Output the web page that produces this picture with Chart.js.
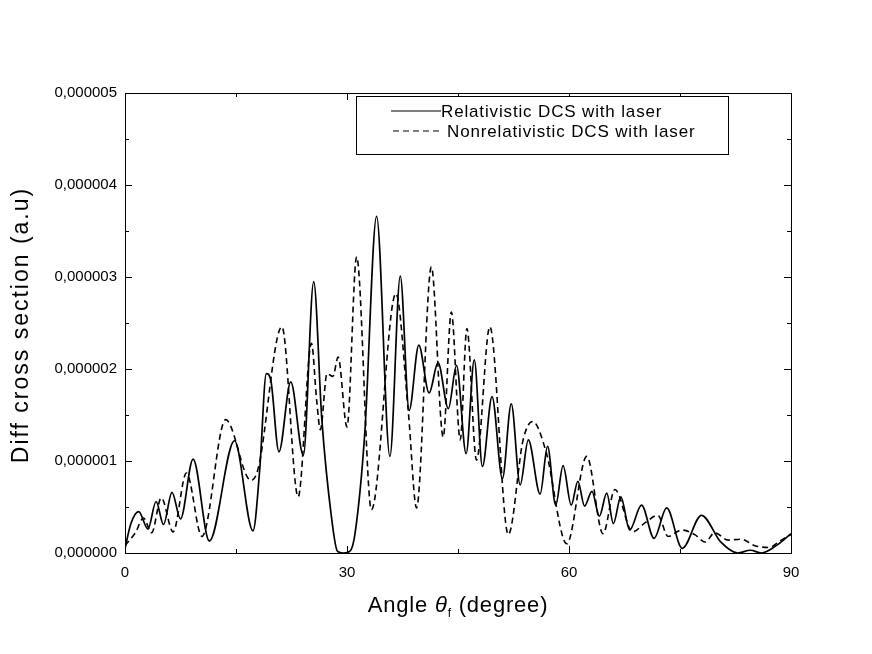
<!DOCTYPE html>
<html>
<head>
<meta charset="utf-8">
<script src="https://cdn.jsdelivr.net/npm/chart.js@4.4.1/dist/chart.umd.min.js"></script>
<style>
html,body{margin:0;padding:0;background:#fff;}
#wrap{width:872px;height:654px;}
canvas{display:block;}
</style>
</head>
<body>
<div id="wrap"><canvas id="c" width="872" height="654"></canvas></div>
<script>
// Angle (degree) and DCS values (a.u.)
const relAngle = [0,0.8,1.85,3.1,4.2,5.2,6.35,7.5,9.2,11.4,14.8,17.3,18.2,19.1,19.7,20.8,22.4,24.1,25.5,26.6,27.9,28.7,29.5,30.4,31.1,32.4,34.0,35.8,37.2,38.4,39.7,41.1,42.3,43.7,44.8,46.1,47.2,48.3,49.6,51.0,52.2,53.4,54.5,56.1,57.1,58.2,59.2,60.3,61.2,62.1,63.1,64.1,65.1,66.0,67.0,68.2,69.8,71.5,73.2,75.3,77.9,80.5,82.8,84.5,86.0,88.0,90.0];
const relDCS = [0.05e-6,0.32e-6,0.45e-6,0.26e-6,0.56e-6,0.31e-6,0.66e-6,0.37e-6,1.02e-6,0.13e-6,1.22e-6,0.24e-6,0.9e-6,1.95e-6,1.88e-6,1.1e-6,1.86e-6,1.06e-6,2.95e-6,1.45e-6,0.39e-6,0.02e-6,0.0,0.02e-6,0.22e-6,1.3e-6,3.66e-6,1.05e-6,3.01e-6,1.55e-6,2.26e-6,1.74e-6,2.07e-6,1.57e-6,2.04e-6,1.08e-6,2.1e-6,0.94e-6,1.7e-6,0.81e-6,1.62e-6,0.74e-6,1.23e-6,0.64e-6,1.16e-6,0.52e-6,0.95e-6,0.52e-6,0.78e-6,0.51e-6,0.67e-6,0.4e-6,0.65e-6,0.32e-6,0.61e-6,0.25e-6,0.52e-6,0.16e-6,0.49e-6,0.05e-6,0.41e-6,0.12e-6,0.0,0.03e-6,0.0,0.08e-6,0.21e-6];

const nonAngle = [0,1.4,2.5,3.6,4.9,6.5,8.3,10.4,13.6,16.5,17.1,18.0,21.2,23.4,25.2,25.9,26.4,27.3,28.1,28.8,30.0,31.3,33.3,36.6,38.3,39.4,41.4,43.0,44.1,45.3,46.2,47.5,49.3,51.8,53.8,55.1,56.9,59.7,62.4,64.6,66.2,68.6,70.3,72.0,73.4,75.2,77.0,78.4,79.7,81.5,83.3,85.1,87.0,88.7,90.0];
const nonDCS = [0.08e-6,0.22e-6,0.38e-6,0.22e-6,0.6e-6,0.23e-6,0.87e-6,0.18e-6,1.45e-6,0.83e-6,0.79e-6,0.92e-6,2.46e-6,0.61e-6,2.28e-6,1.66e-6,1.34e-6,1.95e-6,1.92e-6,2.13e-6,1.37e-6,3.22e-6,0.47e-6,2.82e-6,1.52e-6,0.49e-6,3.11e-6,1.26e-6,2.62e-6,1.23e-6,2.44e-6,1.01e-6,2.46e-6,0.2e-6,1.23e-6,1.43e-6,1.1e-6,0.1e-6,1.05e-6,0.21e-6,0.69e-6,0.23e-6,0.33e-6,0.41e-6,0.18e-6,0.25e-6,0.2e-6,0.12e-6,0.22e-6,0.14e-6,0.15e-6,0.08e-6,0.06e-6,0.14e-6,0.2e-6];

const xMajorTicks = [0,30,60,90];
const xMinorTicks = [15,45,75];
const yMajorTicks = [0,1e-6,2e-6,3e-6,4e-6,5e-6];
const yMinorTicks = [0.5e-6,1.5e-6,2.5e-6,3.5e-6,4.5e-6];
const seriesNames = ['Relativistic DCS with laser','Nonrelativistic DCS with laser'];

const FONT = '"Liberation Sans", Arial, sans-serif';

const framePlugin = {
  id:'frame',
  afterDatasetsDraw(chart){
    const ctx = chart.ctx, a = chart.chartArea;
    const xs = chart.scales.x, ys = chart.scales.y;
    ctx.save();
    ctx.strokeStyle = '#000';
    ctx.lineWidth = 1;
    ctx.setLineDash([]);
    ctx.strokeRect(Math.round(a.left)+0.5, Math.round(a.top)+0.5, Math.round(a.right-a.left), Math.round(a.bottom-a.top));
    ctx.beginPath();
    const tick = (vals, len) => {
      vals.forEach(v=>{
        const px = Math.round(xs.getPixelForValue(v))+0.5;
        ctx.moveTo(px, a.bottom); ctx.lineTo(px, a.bottom-len);
        ctx.moveTo(px, a.top); ctx.lineTo(px, a.top+len);
      });
    };
    tick(xMajorTicks, 7); tick(xMinorTicks, 4);
    const ytick = (vals, len) => {
      vals.forEach(v=>{
        const py = Math.round(ys.getPixelForValue(v))+0.5;
        ctx.moveTo(a.left, py); ctx.lineTo(a.left+len, py);
        ctx.moveTo(a.right, py); ctx.lineTo(a.right-len, py);
      });
    };
    ytick(yMajorTicks, 7); ytick(yMinorTicks, 4);
    ctx.stroke();

    // legend
    ctx.fillStyle = '#fff';
    ctx.fillRect(357, 97, 371, 58);
    ctx.strokeRect(356.5, 96.5, 372, 58);
    ctx.lineWidth = 1.2;
    ctx.beginPath(); ctx.moveTo(391, 111); ctx.lineTo(441, 111); ctx.stroke();
    ctx.setLineDash([6,4]);
    ctx.beginPath(); ctx.moveTo(393, 131); ctx.lineTo(443, 131); ctx.stroke();
    ctx.setLineDash([]);
    ctx.fillStyle = '#000';
    ctx.font = '17px ' + FONT;
    ctx.letterSpacing = '0.85px';
    ctx.textAlign = 'left';
    ctx.textBaseline = 'alphabetic';
    ctx.fillText(seriesNames[0], 441, 117);
    ctx.fillText(seriesNames[1], 447, 137);

    // y title
    ctx.save();
    ctx.translate(22, 325);
    ctx.rotate(-Math.PI/2);
    ctx.font = '23px ' + FONT;
    ctx.letterSpacing = '2px';
    ctx.textAlign = 'center';
    ctx.textBaseline = 'middle';
    ctx.fillText('Diff cross section (a.u)', 0, 0);
    ctx.restore();

    // x title: Angle θf (degree)
    ctx.letterSpacing = '0.8px';
    ctx.textBaseline = 'alphabetic';
    const f1 = '22px ' + FONT, fi = 'italic 22px ' + FONT, fs = '12px ' + FONT;
    const parts = [['Angle ', f1, 0], ['\u03B8', fi, 0], ['f', fs, 5], [' (degree)', f1, 0]];
    let total = 0;
    parts.forEach(p=>{ ctx.font = p[1]; total += ctx.measureText(p[0]).width; });
    let x = (a.left + a.right)/2 - total/2;
    parts.forEach(p=>{ ctx.font = p[1]; ctx.fillText(p[0], x, 612 + p[2]); x += ctx.measureText(p[0]).width; });
    ctx.restore();
  }
};

const relData = relAngle.map((v,i)=>({x:v, y:relDCS[i]}));
const nonData = nonAngle.map((v,i)=>({x:v, y:nonDCS[i]}));

new Chart(document.getElementById('c'), {
  type:'line',
  data:{datasets:[
    {label:seriesNames[0], data:relData, borderColor:'#000', borderWidth:1.7, pointRadius:0, cubicInterpolationMode:'monotone', fill:false},
    {label:seriesNames[1], data:nonData, borderColor:'#000', borderWidth:1.6, borderDash:[6,4], pointRadius:0, cubicInterpolationMode:'monotone', fill:false}
  ]},
  options:{
    responsive:false, animation:false, devicePixelRatio:1,
    layout:{padding:{left:0, top:93, right:81, bottom:0}},
    plugins:{legend:{display:false}, tooltip:{enabled:false}},
    scales:{
      x:{type:'linear', min:0, max:90,
        afterBuildTicks(s){ s.ticks = xMajorTicks.map(v=>({value:v})); },
        afterFit(s){ s.height = 101; },
        grid:{display:false, drawTicks:false},
        border:{display:true, color:'#000', width:1},
        ticks:{color:'#000', padding:11, font:{family:FONT, size:15}, maxRotation:0}
      },
      y:{min:0, max:5e-6,
        afterBuildTicks(s){ s.ticks = yMajorTicks.map(v=>({value:v})); },
        afterFit(s){ s.width = 125; },
        grid:{display:false, drawTicks:false},
        border:{display:true, color:'#000', width:1},
        ticks:{color:'#000', padding:8, font:{family:FONT, size:15}, callback:(v)=>v.toFixed(6).replace('.', ',')}
      }
    }
  },
  plugins:[framePlugin]
});
</script>
</body>
</html>
